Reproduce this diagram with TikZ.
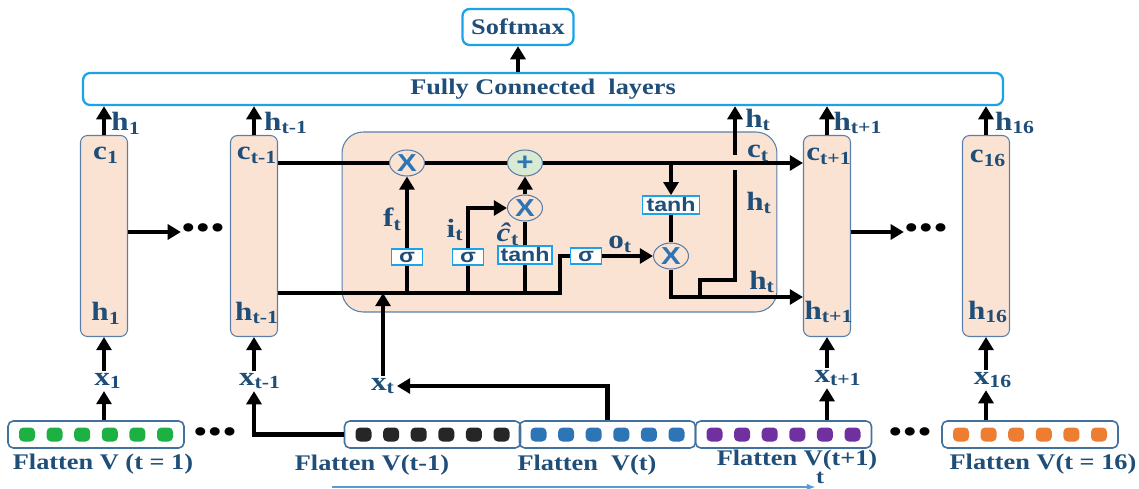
\documentclass[tikz,border=0pt]{standalone}
\usepackage{fontspec}
\setmainfont{Liberation Serif}[FakeStretch=1.18]
\newfontfamily\gatefont{Liberation Sans}[FakeStretch=1.2]
\usetikzlibrary{arrows.meta,shapes.geometric,positioning}
\definecolor{lblue}{HTML}{1F4E79}
\definecolor{fcblue}{HTML}{1AA3E8}
\definecolor{peach}{HTML}{FBE3D4}
\definecolor{cellline}{HTML}{5A7FAA}
\definecolor{multblue}{HTML}{2E75B6}
\definecolor{plusfill}{HTML}{D8EAD2}
\definecolor{vecline}{HTML}{41719C}
\definecolor{vgreen}{HTML}{1DB043}
\definecolor{vblack}{HTML}{262626}
\definecolor{vblue}{HTML}{2E75B6}
\definecolor{vpurple}{HTML}{7030A0}
\definecolor{vorange}{HTML}{ED7D31}
\definecolor{tarrow}{HTML}{5B9BD5}

\begin{document}
\begin{tikzpicture}[x=0.02cm,y=-0.02cm,
  cell/.style={draw=cellline,fill=peach,rounded corners=4pt,line width=0.6pt,minimum width=0.94cm,minimum height=4.02cm},
  lstm/.style={draw=cellline,fill=peach,rounded corners=12pt,line width=0.6pt,minimum width=8.7cm,minimum height=3.6cm},
  topbox/.style={draw=fcblue,line width=1.3pt,rounded corners=4pt,text=lblue,font=\fontsize{12.7}{14}\selectfont\bfseries},
  gate/.style={draw=fcblue,fill=white,line width=1.1pt,text=lblue,inner sep=1pt,minimum height=0.32cm,font=\gatefont\fontsize{11}{11}\selectfont\bfseries},
  mult/.style={ellipse,draw=cellline,fill=peach,line width=0.6pt,minimum width=0.7cm,minimum height=0.52cm,inner sep=0pt,text=multblue,font=\gatefont\fontsize{14}{14}\selectfont\bfseries},
  vec/.style={draw=vecline,line width=0.9pt,rounded corners=3pt,minimum width=3.52cm,minimum height=0.54cm},
  lbl/.style={text=lblue,inner sep=1pt,font=\fontsize{15}{15}\selectfont\bfseries},
  caption/.style={text=lblue,inner sep=1pt,font=\fontsize{12.7}{14}\selectfont\bfseries},
  dotsn/.style={inner sep=0pt,font=\fontsize{20}{20}\selectfont},
  arr/.style={-{Triangle[length=7.5pt,width=8.5pt]},line width=2.4pt},
  wire/.style={line width=2.1pt}]
\useasboundingbox (0,0) rectangle (1139,489);

% output layers
\node[topbox,minimum width=2.22cm,minimum height=0.72cm] (sm) at (518,27) {Softmax};
\node[topbox,minimum width=18.4cm,minimum height=0.6cm] (fc) at (543,89) {Fully Connected\ \ layers};
\draw[arr] (fc.north -| sm) -- (sm.south);

% unrolled cells
\node[cell] (cell1) at (104,236) {};
\node[cell] (celltm) at (254,236) {};
\node[cell] (celltp) at (827,236) {};
\node[cell] (cell16) at (986,236) {};
\node[lstm] (lstm) at (559.5,222) {};

\node[lbl] (c1) at (106,155) {c\textsubscript{1}};
\node[lbl] (h1) at (106,313) {h\textsubscript{1}};
\node[lbl] (ctm) at (257,155) {c\textsubscript{t-1}};
\node[lbl] (htm) at (257,313) {h\textsubscript{t-1}};
\node[lbl] (ctp) at (829,156) {c\textsubscript{t+1}};
\node[lbl] (htp) at (829,312) {h\textsubscript{t+1}};
\node[lbl] (c16) at (988,158) {c\textsubscript{16}};
\node[lbl] (h16) at (988,312) {h\textsubscript{16}};

% outputs to the fully connected layers
\foreach \cn/\hn/\x/\tx in {cell1/o1/126/1,celltm/otm/286/t-1,celltp/otp/858/t+1,cell16/o16/1015/16}{
  \draw[arr] (\cn.north) -- (\cn.north |- fc.south);
  \node[lbl] (\hn) at (\x,123) {h\textsubscript{\tx}};
}

% dots between cells
\node[dotsn] (dots1) at (203,232) {\textbullet\textbullet\textbullet};
\node[dotsn] (dots2) at (926,232) {\textbullet\textbullet\textbullet};
\draw[arr] (cell1.east |- dots1) -- (dots1.west);
\draw[arr] (celltp.east |- dots2) -- (dots2.west);

% LSTM cell internals
\node[mult] (mf) at (407,163) {X};
\node[mult,fill=plusfill] (plus) at (525,163) {+};
\node[mult] (mi) at (525,208) {X};
\node[mult] (mo) at (671,256) {X};
\node[gate,minimum width=0.62cm] (sf) at (407,257) {σ};
\node[gate,minimum width=0.62cm] (si) at (468,257) {σ};
\node[gate,minimum width=1.08cm] (tc) at (525,255) {tanh};
\node[gate,minimum width=0.62cm] (so) at (586,256) {σ};
\node[gate,minimum width=1.14cm] (th) at (671,205) {tanh};

\coordinate (hl) at (560,293);
\coordinate (hout) at (671,297);
\coordinate (hbr) at (700,297);
\coordinate (hjog) at (735,280);
\coordinate (hgap1) at (735,170);
\coordinate (hgap2) at (735,155);

% cell state
\draw[wire] (celltm.east |- mf) -- (mf.west);
\draw[wire] (mf.east) -- (plus.west);
\draw[arr,line width=2.1pt] (plus.east) -- (celltp.west |- plus);
\draw[arr,line width=2.1pt] (mo |- plus) -- (th.north);

% hidden state and gates
\draw[wire] (celltm.east |- hl) -- (hl) |- (so.west);
\draw[wire] (sf |- hl) -- (sf.south);
\draw[wire] (si |- hl) -- (si.south);
\draw[wire] (tc |- hl) -- (tc.south);
\draw[arr,line width=2.1pt] (sf.north) -- node[lbl,left=1pt,pos=0.4] (ft) {f\textsubscript{t}} (mf.south);
\draw[arr,line width=2.1pt] (si.north) |- (mi.west);
\node[lbl] (it) at (455,230) {i\textsubscript{t}};
\draw[wire] (tc.north) -- (mi.south);
\node[lbl] (cht) at (508,234) {\textit{ĉ}\textsubscript{t}};
\draw[arr,line width=2.1pt] (mi.north) -- (plus.south);
\draw[arr,line width=2.1pt] (so.east) -- node[lbl,above=0pt,pos=0.35] (ot) {o\textsubscript{t}} (mo.west);
\draw[wire] (th.south) -- (mo.north);
\draw[arr,line width=2.1pt] (mo.south) -- (hout) -- (celltp.west |- hout);
\draw[wire] (hbr) |- (hjog) -- (hgap1);
\draw[arr] (hgap2) -- (hgap2 |- fc.south);
\node[lbl] (htop) at (758,120) {h\textsubscript{t}};
\node[lbl] (ct) at (758,153) {c\textsubscript{t}};
\node[lbl] (hmid) at (759,203) {h\textsubscript{t}};
\node[lbl] (hlow) at (762,282) {h\textsubscript{t}};

% inputs
\node[vec] (v1) at (96,434.5) {};
\node[vec] (vtm) at (432.5,434.5) {};
\node[vec] (vt) at (607.5,434.5) {};
\node[vec] (vtp) at (783.5,434.5) {};
\node[vec] (v16) at (1030,434.5) {};
\foreach \vn/\col in {v1/vgreen,vtm/vblack,vt/vblue,vtp/vpurple,v16/vorange}
  \foreach \d in {-69,-41.4,-13.8,13.8,41.4,69}
    \fill[\col,rounded corners=2.5pt] (\vn) ++(\d-8,-7) rectangle ++(16,14);
\node[dotsn] (dots3) at (215,436) {\textbullet\textbullet\textbullet};
\node[dotsn] (dots4) at (910,436) {\textbullet\textbullet\textbullet};

\node[caption] (l1) at (103,464) {Flatten V (t = 1)};
\node[caption] (ltm) at (372,465) {Flatten V(t-1)};
\node[caption] (lt) at (587,465) {Flatten\ \ V(t)};
\node[caption,inner sep=0pt] (ltp) at (797,460) {Flatten V(t+1)};
\node[caption] (l16) at (1043,464) {Flatten V(t = 16)};

\node[lbl] (x1) at (108,381) {x\textsubscript{1}};
\node[lbl] (xtm) at (260,381) {x\textsubscript{t-1}};
\node[lbl] (xt) at (383,386) {x\textsubscript{t}};
\node[lbl] (xtp) at (838,378) {x\textsubscript{t+1}};
\node[lbl] (x16) at (993,380) {x\textsubscript{16}};

\draw[arr] (v1.north -| cell1) -- (x1.south -| cell1);
\draw[arr] (x1.north -| cell1) -- (cell1.south);
\draw[arr] (vtm.west) -| (xtm.south -| celltm);
\draw[arr] (xtm.north -| celltm) -- (celltm.south);
\draw[arr] (vt.north) |- (xt.east);
\draw[arr] (xt.north) -- (xt.north |- hl);
\draw[arr] (vtp.north -| celltp) -- (xtp.south -| celltp);
\draw[arr] (xtp.north -| celltp) -- (celltp.south);
\draw[arr] (v16.north -| cell16) -- (x16.south -| cell16);
\draw[arr] (x16.north -| cell16) -- (cell16.south);

% time axis
\coordinate (tstart) at (332,487);
\node[caption,inner sep=0pt,font=\fontsize{11.5}{12}\selectfont\bfseries] (tlab) at (820,478) {t};
\draw[tarrow,line width=1.3pt,-{Latex[length=5pt]}] (tstart) -- (tstart -| tlab.west);
\end{tikzpicture}
\end{document}
